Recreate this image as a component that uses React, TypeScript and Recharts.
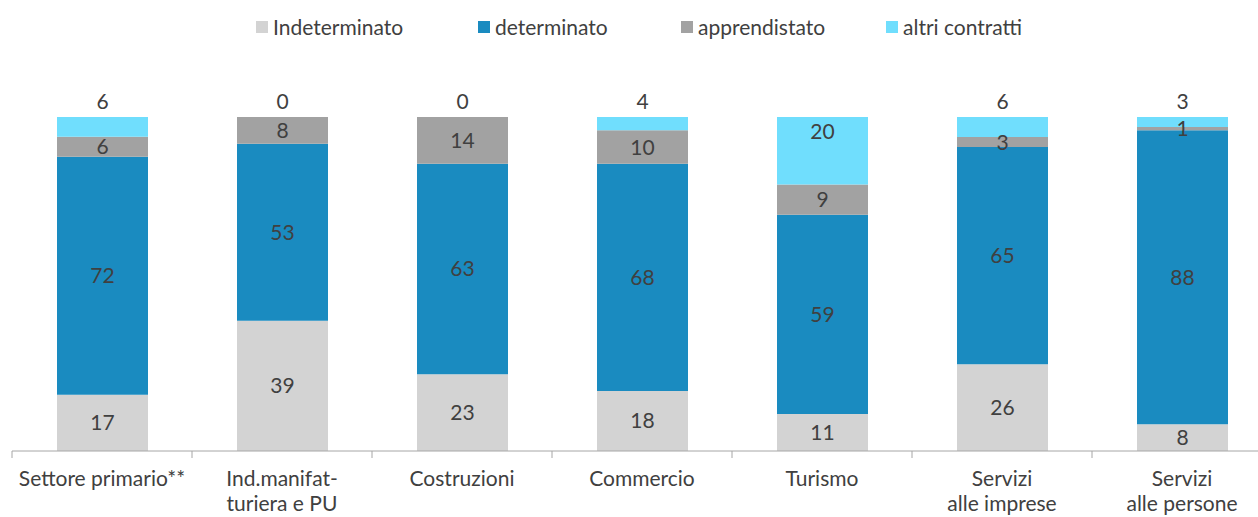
import { Bar, BarChart, Cell, LabelList, XAxis, YAxis } from 'recharts'

const categories = [
  'Settore primario**',
  'Ind.manifat-\nturiera e PU',
  'Costruzioni',
  'Commercio',
  'Turismo',
  'Servizi\nalle imprese',
  'Servizi\nalle persone',
]
const indeterminato = [17, 39, 23, 18, 11, 26, 8]
const determinato = [72, 53, 63, 68, 59, 65, 88]
const apprendistato = [6, 8, 14, 10, 9, 3, 1]
const altriContratti = [6, 0, 0, 4, 20, 6, 3]

const SERIES = [
  { key: 'ind', name: 'Indeterminato', color: '#d3d3d3', values: indeterminato },
  { key: 'det', name: 'determinato', color: '#1a8bc0', values: determinato },
  { key: 'app', name: 'apprendistato', color: '#a2a2a2', values: apprendistato },
  { key: 'alt', name: 'altri contratti', color: '#70defd', values: altriContratti },
]

const data = categories.map((c, i) => {
  const row: Record<string, string | number> = { cat: c }
  SERIES.forEach(s => { row[s.key] = s.values[i] })
  return row
})

const FONT = 'Lato, "Open Sans", sans-serif'
const TEXT = '#404040'
const FS = 21
const LEGEND_X = [256, 478, 681, 886]

function CatTick({ x, y, payload, index }: any) {
  const lines = String(payload.value).split('\n')
  const ay = y - 8
  return (
    <g>
      <line x1={x - 90} x2={x - 90} y1={ay} y2={ay + 7} stroke="#a6a6a6" />
      {index === categories.length - 1 && (
        <line x1={x + 90} x2={x + 90} y1={ay} y2={ay + 7} stroke="#a6a6a6" />
      )}
      <text x={x} y={ay + 35} textAnchor="middle" fill={TEXT} fontSize={FS} fontFamily={FONT}>
        {lines.map((l, i) => (
          <tspan key={i} x={x} dy={i === 0 ? 0 : 25}>{l}</tspan>
        ))}
      </text>
    </g>
  )
}

function TopLabel(props: any) {
  const { x, y, width, height, value } = props
  const cx = x + width / 2
  // zero bars get a 1px transparent sliver above the stack
  const top = value === 0 ? y + height : y
  return (
    <text x={cx} y={value >= 10 ? top + 22 : top - 8} textAnchor="middle" fill={TEXT} fontSize={FS} fontFamily={FONT}>
      {value}
    </text>
  )
}

export default function App() {
  return (
    <div style={{ position: 'absolute', left: 0, top: 0, width: 1258, height: 517, overflow: 'hidden', background: '#fff', fontFamily: FONT }}>
      {SERIES.map((s, i) => (
        <div key={s.key} style={{ position: 'absolute', left: LEGEND_X[i], top: 14, display: 'flex', alignItems: 'center', fontSize: FS, color: TEXT, whiteSpace: 'nowrap' }}>
          <span style={{ display: 'inline-block', width: 12, height: 12, background: s.color, marginRight: 5 }} />
          {s.name}
        </div>
      ))}
      <BarChart
        width={1284}
        height={517}
        data={data}
        stackOffset="expand"
        margin={{ top: 117, right: 12, bottom: 0, left: 12 }}
        barSize={91}
      >
        <XAxis
          dataKey="cat"
          height={66}
          axisLine={{ stroke: '#a6a6a6' }}
          tickLine={false}
          interval={0}
          tick={<CatTick />}
        />
        <YAxis hide domain={[0, 1]} allowDataOverflow />
        {SERIES.map((s, i) => (
          <Bar
            key={s.key}
            dataKey={s.key}
            stackId="a"
            fill={s.color}
            isAnimationActive={false}
            minPointSize={i === 3 ? 1 : 0}
          >
            {i === 3 && s.values.map((v, j) => (
              <Cell key={j} fill={v === 0 ? 'transparent' : s.color} />
            ))}
            {i < 3 ? (
              <LabelList dataKey={s.key} position="center" fill={TEXT} fontSize={FS} fontFamily={FONT} />
            ) : (
              <LabelList dataKey={s.key} content={<TopLabel />} />
            )}
          </Bar>
        ))}
      </BarChart>
    </div>
  )
}
